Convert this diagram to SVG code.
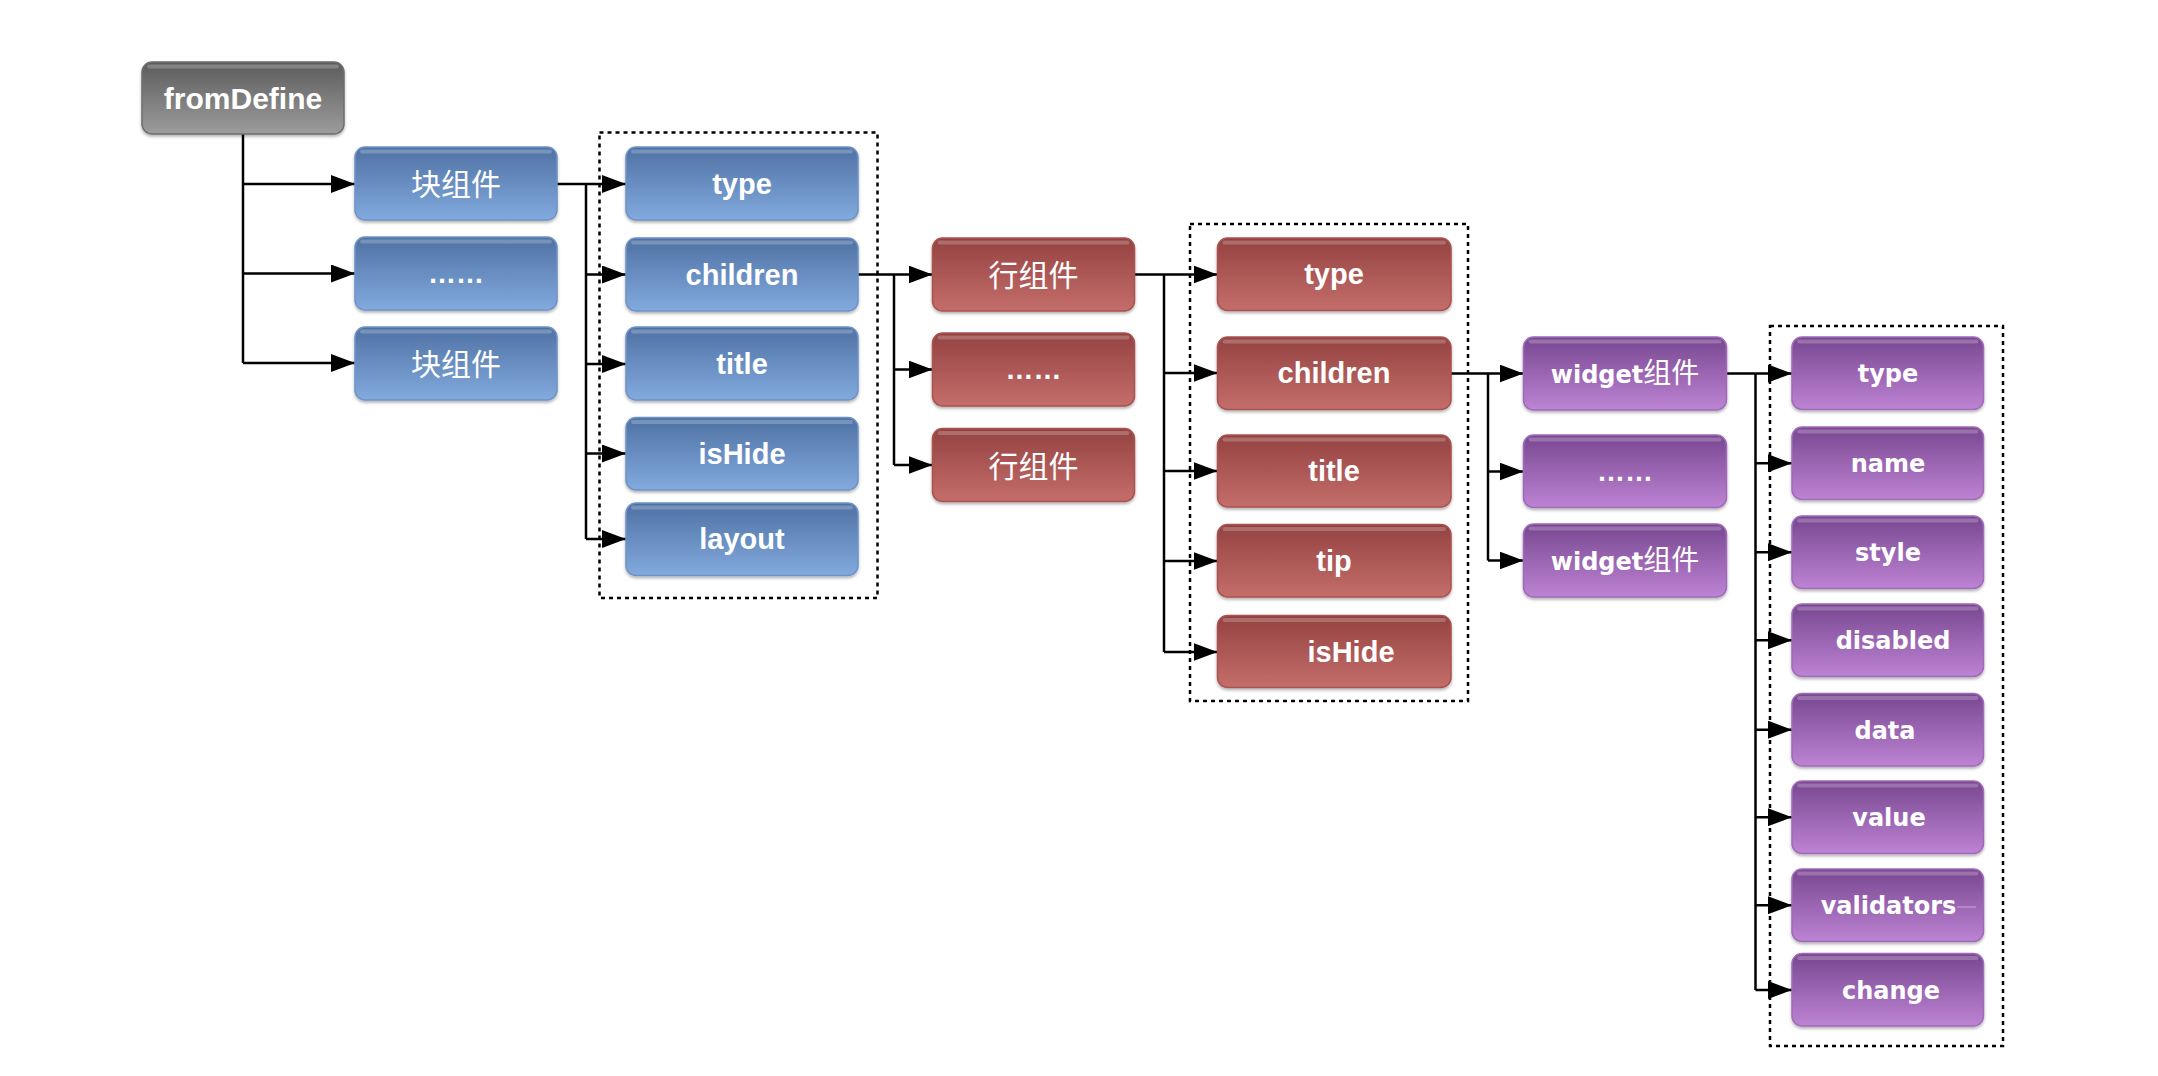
<svg xmlns="http://www.w3.org/2000/svg" width="2158" height="1076" viewBox="0 0 2158 1076">
<defs>
<linearGradient id="gGray" x1="0" y1="0" x2="0" y2="1"><stop offset="0" stop-color="#5c5c5c"/><stop offset="1" stop-color="#9c9c9c"/></linearGradient>
<linearGradient id="gBlue" x1="0" y1="0" x2="0" y2="1"><stop offset="0" stop-color="#4f71a3"/><stop offset="1" stop-color="#82aade"/></linearGradient>
<linearGradient id="gRed" x1="0" y1="0" x2="0" y2="1"><stop offset="0" stop-color="#944241"/><stop offset="1" stop-color="#c46e6b"/></linearGradient>
<linearGradient id="gPurple" x1="0" y1="0" x2="0" y2="1"><stop offset="0" stop-color="#784790"/><stop offset="1" stop-color="#bd83d4"/></linearGradient>
<filter id="sh" x="-10%" y="-10%" width="120%" height="130%"><feDropShadow dx="0" dy="2" stdDeviation="1.6" flood-color="#000" flood-opacity="0.3"/></filter>
<marker id="arr" markerUnits="userSpaceOnUse" markerWidth="24" markerHeight="18" viewBox="0 0 24 18" refX="24" refY="9" orient="auto"><path d="M0,0 L24,9 L0,18 z" fill="#000"/></marker>
</defs>
<style>
.box{filter:url(#sh);stroke-width:1.5}
.gray .box{fill:url(#gGray);stroke:#6e6e6e}
.blue .box{fill:url(#gBlue);stroke:#6d92c6}
.red .box{fill:url(#gRed);stroke:#a9524f}
.purple .box{fill:url(#gPurple);stroke:#a06ab8}
.hl{fill:#fff;opacity:0.22}
.t{fill:#fff;text-anchor:middle;font-family:"Liberation Sans",Arial,sans-serif;font-weight:bold;font-size:29px}
.tg{font-size:30px}
.cjk{fill:#fff;text-anchor:middle;font-family:"Noto Sans CJK SC",sans-serif;font-weight:normal;font-size:30px}
.tp{fill:#fff;text-anchor:middle;font-family:"DejaVu Sans",sans-serif;font-weight:bold;font-size:24px}
.dots{fill:#fff;text-anchor:middle;font-family:"Liberation Sans",Arial,sans-serif;font-weight:bold;font-size:28px}
.grp{fill:none;stroke:#000;stroke-width:2.5;stroke-dasharray:4 4}
.c{fill:none;stroke:#000;stroke-width:2.5}
.a{fill:none;stroke:#000;stroke-width:2.5;marker-end:url(#arr)}
</style>
<rect width="2158" height="1076" fill="#fff"/>

<g id="groups">
<rect class="grp" x="599.5" y="132.5" width="278" height="465.5"/>
<rect class="grp" x="1190" y="224" width="278" height="477"/>
<rect class="grp" x="1770" y="326" width="233" height="720"/>
</g>

<g id="connectors">
<path class="c" d="M243,134 V363"/>
<path class="a" d="M243,184 H355"/>
<path class="a" d="M243,273.5 H355"/>
<path class="a" d="M243,363 H355"/>

<path class="c" d="M557,184 H586 M586,184 V539"/>
<path class="a" d="M586,184 H626"/>
<path class="a" d="M586,274.5 H626"/>
<path class="a" d="M586,364 H626"/>
<path class="a" d="M586,453.5 H626"/>
<path class="a" d="M586,539 H626"/>

<path class="c" d="M858,274.5 H894 M894,274.5 V465"/>
<path class="a" d="M894,274.5 H932.5"/>
<path class="a" d="M894,369.5 H932.5"/>
<path class="a" d="M894,465 H932.5"/>

<path class="c" d="M1134.5,274.5 H1164 M1164,274.5 V652"/>
<path class="a" d="M1164,274.5 H1217.5"/>
<path class="a" d="M1164,373 H1217.5"/>
<path class="a" d="M1164,471 H1217.5"/>
<path class="a" d="M1164,561 H1217.5"/>
<path class="a" d="M1164,652 H1217.5"/>

<path class="c" d="M1451,373.5 H1488 M1488,373.5 V560.5"/>
<path class="a" d="M1488,373.5 H1523.5"/>
<path class="a" d="M1488,471.5 H1523.5"/>
<path class="a" d="M1488,560.5 H1523.5"/>

<path class="c" d="M1726.5,373.5 H1755.5 M1755.5,373.5 V990"/>
<path class="a" d="M1755.5,373.5 H1792"/>
<path class="a" d="M1755.5,463.2 H1792"/>
<path class="a" d="M1755.5,552.2 H1792"/>
<path class="a" d="M1755.5,640.2 H1792"/>
<path class="a" d="M1755.5,729.7 H1792"/>
<path class="a" d="M1755.5,817.2 H1792"/>
<path class="a" d="M1755.5,905.2 H1792"/>
<path class="a" d="M1755.5,990 H1792"/>
</g>

<g id="n-fromDefine" class="gray"><rect class="box" x="142" y="62" width="202" height="72" rx="10"/><rect class="hl" x="147" y="64.5" width="192" height="4" rx="2"/><text class="t tg" x="243" y="109">fromDefine</text></g>

<g id="n-block1" class="blue"><rect class="box" x="355" y="147" width="202" height="73" rx="10"/><rect class="hl" x="360" y="149.5" width="192" height="4" rx="2"/><text class="cjk" x="456" y="195">块组件</text></g>
<g id="n-block-more" class="blue"><rect class="box" x="355" y="237" width="202" height="73" rx="10"/><rect class="hl" x="360" y="239.5" width="192" height="4" rx="2"/><text class="dots" x="456" y="283">……</text></g>
<g id="n-block2" class="blue"><rect class="box" x="355" y="327" width="202" height="73" rx="10"/><rect class="hl" x="360" y="329.5" width="192" height="4" rx="2"/><text class="cjk" x="456" y="375">块组件</text></g>

<g id="n-b-type" class="blue"><rect class="box" x="626" y="147" width="232" height="73" rx="10"/><rect class="hl" x="631" y="149.5" width="222" height="4" rx="2"/><text class="t" x="742" y="194">type</text></g>
<g id="n-b-children" class="blue"><rect class="box" x="626" y="238" width="232" height="73" rx="10"/><rect class="hl" x="631" y="240.5" width="222" height="4" rx="2"/><text class="t" x="742" y="284.5">children</text></g>
<g id="n-b-title" class="blue"><rect class="box" x="626" y="327" width="232" height="73" rx="10"/><rect class="hl" x="631" y="329.5" width="222" height="4" rx="2"/><text class="t" x="742" y="374">title</text></g>
<g id="n-b-isHide" class="blue"><rect class="box" x="626" y="417.5" width="232" height="72.5" rx="10"/><rect class="hl" x="631" y="420" width="222" height="4" rx="2"/><text class="t" x="742" y="463.5">isHide</text></g>
<g id="n-b-layout" class="blue"><rect class="box" x="626" y="503" width="232" height="72.5" rx="10"/><rect class="hl" x="631" y="505.5" width="222" height="4" rx="2"/><text class="t" x="742" y="549">layout</text></g>

<g id="n-row1" class="red"><rect class="box" x="932.5" y="238" width="202" height="73" rx="10"/><rect class="hl" x="937.5" y="240.5" width="192" height="4" rx="2"/><text class="cjk" x="1033.5" y="286">行组件</text></g>
<g id="n-row-more" class="red"><rect class="box" x="932.5" y="333" width="202" height="73" rx="10"/><rect class="hl" x="937.5" y="335.5" width="192" height="4" rx="2"/><text class="dots" x="1033.5" y="379">……</text></g>
<g id="n-row2" class="red"><rect class="box" x="932.5" y="428.5" width="202" height="73" rx="10"/><rect class="hl" x="937.5" y="431" width="192" height="4" rx="2"/><text class="cjk" x="1033.5" y="476.5">行组件</text></g>

<g id="n-r-type" class="red"><rect class="box" x="1217.5" y="238" width="233.5" height="72.5" rx="10"/><rect class="hl" x="1222.5" y="240.5" width="223.5" height="4" rx="2"/><text class="t" x="1334" y="284">type</text></g>
<g id="n-r-children" class="red"><rect class="box" x="1217.5" y="337" width="233.5" height="72.5" rx="10"/><rect class="hl" x="1222.5" y="339.5" width="223.5" height="4" rx="2"/><text class="t" x="1334" y="383">children</text></g>
<g id="n-r-title" class="red"><rect class="box" x="1217.5" y="435" width="233.5" height="72" rx="10"/><rect class="hl" x="1222.5" y="437.5" width="223.5" height="4" rx="2"/><text class="t" x="1334" y="481">title</text></g>
<g id="n-r-tip" class="red"><rect class="box" x="1217.5" y="524.5" width="233.5" height="72.5" rx="10"/><rect class="hl" x="1222.5" y="527" width="223.5" height="4" rx="2"/><text class="t" x="1334" y="571">tip</text></g>
<g id="n-r-isHide" class="red"><rect class="box" x="1217.5" y="615.5" width="233.5" height="72" rx="10"/><rect class="hl" x="1222.5" y="618" width="223.5" height="4" rx="2"/><text class="t" x="1351" y="662">isHide</text></g>

<g id="n-widget1" class="purple"><rect class="box" x="1523.5" y="337" width="203" height="73" rx="10"/><rect class="hl" x="1528.5" y="339.5" width="193" height="4" rx="2"/><text class="tp" x="1625" y="383">widget<tspan font-family="Noto Sans CJK SC, sans-serif" font-weight="normal" font-size="28">组件</tspan></text></g>
<g id="n-widget-more" class="purple"><rect class="box" x="1523.5" y="435" width="203" height="72.5" rx="10"/><rect class="hl" x="1528.5" y="437.5" width="193" height="4" rx="2"/><text class="dots" x="1625" y="481">……</text></g>
<g id="n-widget2" class="purple"><rect class="box" x="1523.5" y="524" width="203" height="73" rx="10"/><rect class="hl" x="1528.5" y="526.5" width="193" height="4" rx="2"/><text class="tp" x="1625" y="570">widget<tspan font-family="Noto Sans CJK SC, sans-serif" font-weight="normal" font-size="28">组件</tspan></text></g>

<g id="n-w-type" class="purple"><rect class="box" x="1792" y="337" width="191.5" height="72.5" rx="10"/><rect class="hl" x="1797" y="339.5" width="181.5" height="4" rx="2"/><text class="tp" x="1888" y="382">type</text></g>
<g id="n-w-name" class="purple"><rect class="box" x="1792" y="427" width="191.5" height="72.5" rx="10"/><rect class="hl" x="1797" y="429.5" width="181.5" height="4" rx="2"/><text class="tp" x="1888" y="472">name</text></g>
<g id="n-w-style" class="purple"><rect class="box" x="1792" y="516" width="191.5" height="72.5" rx="10"/><rect class="hl" x="1797" y="518.5" width="181.5" height="4" rx="2"/><text class="tp" x="1888" y="561">style</text></g>
<g id="n-w-disabled" class="purple"><rect class="box" x="1792" y="604" width="191.5" height="72.5" rx="10"/><rect class="hl" x="1797" y="606.5" width="181.5" height="4" rx="2"/><text class="tp" x="1893" y="649">disabled</text></g>
<g id="n-w-data" class="purple"><rect class="box" x="1792" y="693.5" width="191.5" height="72.5" rx="10"/><rect class="hl" x="1797" y="696" width="181.5" height="4" rx="2"/><text class="tp" x="1885" y="738.5">data</text></g>
<g id="n-w-value" class="purple"><rect class="box" x="1792" y="781" width="191.5" height="72.5" rx="10"/><rect class="hl" x="1797" y="783.5" width="181.5" height="4" rx="2"/><text class="tp" x="1889" y="826">value</text></g>
<g id="n-w-validators" class="purple"><rect class="box" x="1792" y="869" width="191.5" height="72.5" rx="10"/><rect class="hl" x="1797" y="871.5" width="181.5" height="4" rx="2"/><text class="tp" x="1888.5" y="914">validators</text><path d="M1957,907 H1976" stroke="#d8b8e4" stroke-width="1.2" opacity="0.7"/></g>
<g id="n-w-change" class="purple"><rect class="box" x="1792" y="953.5" width="191.5" height="72.5" rx="10"/><rect class="hl" x="1797" y="956" width="181.5" height="4" rx="2"/><text class="tp" x="1891" y="998.5">change</text></g>
</svg>
